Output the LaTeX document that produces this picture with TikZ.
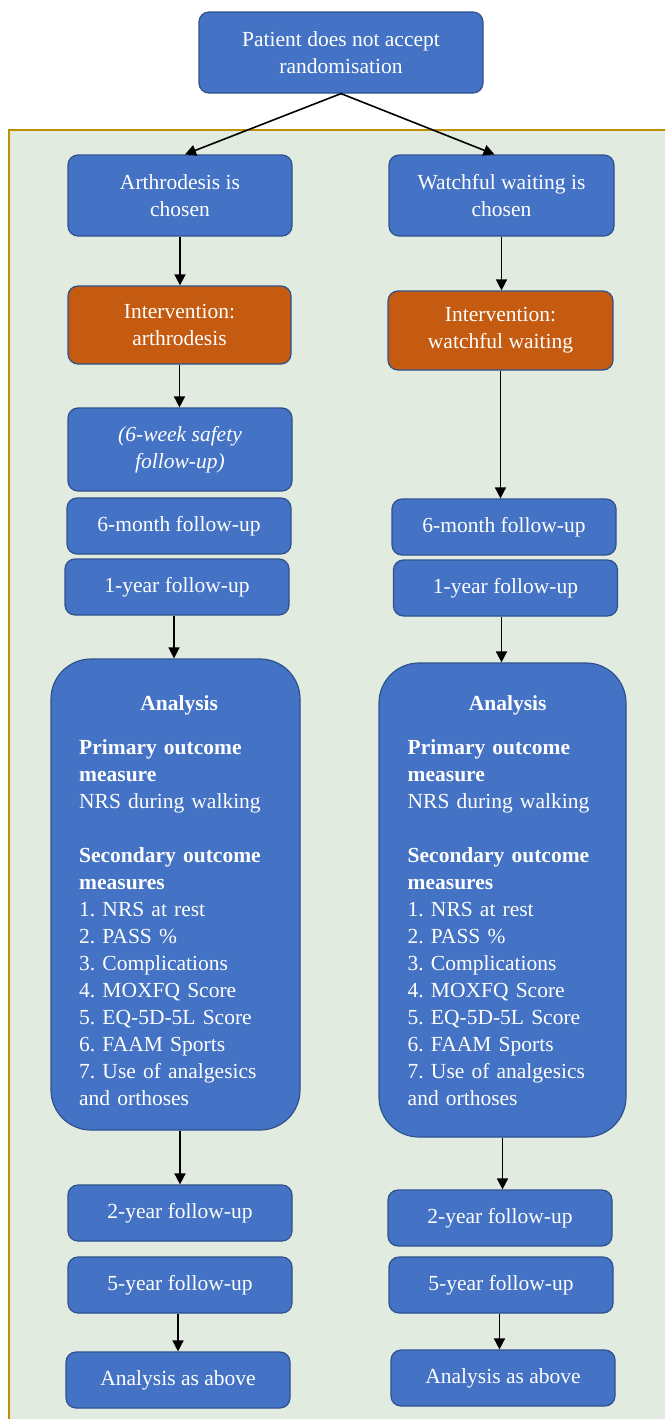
\documentclass[tikz,border=0pt]{standalone}
\usepackage{fontspec}
\setmainfont{Liberation Serif}
\usetikzlibrary{arrows.meta}
\definecolor{boxblue}{HTML}{4472C4}
\definecolor{boxedge}{HTML}{2F528F}
\definecolor{boxorange}{HTML}{C55A11}
\definecolor{framefill}{HTML}{E2EBE0}
\definecolor{frameedge}{HTML}{BF9000}
\newcommand{\diagfont}{\fontsize{21.5}{27}\selectfont}
\frenchspacing
\begin{document}
\begin{tikzpicture}[x=1pt,y=-1pt,
  box/.style={draw=boxedge, fill=boxblue, line width=1.2pt, rounded corners=10pt, text=white, align=center, inner sep=0pt, font=\diagfont},
  intbox/.style={box, fill=boxorange},
  fu/.style={box, minimum width=224pt, minimum height=56pt},
  anabox/.style={box, rounded corners=40pt},
  anatext/.style={text=white, font=\diagfont, align=left, inner sep=0pt, text width=200pt, anchor=north west},
  arr/.style={-{Triangle[length=11pt,width=11pt]}, line width=1.6pt, black}]
\useasboundingbox (0,0) rectangle (665,1419);
\clip (0,0) rectangle (665,1419);
% frame
\fill[framefill] (9,130) rectangle (690,1440);
\draw[frameedge, line width=1.6pt] (690,130) -- (9,130) -- (9,1440);

% top
\node[box, minimum width=284pt, minimum height=81pt] (top) at (341,52.5) {Patient does not accept\\randomisation};

% left column
\node[box, minimum width=224pt, minimum height=81pt] (chosenL) at (180,195.5) {Arthrodesis is\\chosen};
\node[intbox, minimum width=223pt, minimum height=78pt] (intL) at (179.5,325) {Intervention:\\arthrodesis};
\node[box, minimum width=224pt, minimum height=83pt] (sixwL) at (180,449.5) {\itshape (6-week safety\\\itshape follow-up)};
\node[fu] (sixmL) at (179,526) {6-month follow-up};
\node[fu] (oneyL) at (177,587) {1-year follow-up};
\node[anabox, minimum width=249pt, minimum height=471pt] (anaL) at (175.5,894.5) {};
\node[fu] (twoyL) at (180,1213) {2-year follow-up};
\node[fu] (fiveyL) at (180,1285) {5-year follow-up};
\node[fu] (aaaL) at (178,1380) {Analysis as above};

% right column
\node[box, minimum width=225pt, minimum height=81pt] (chosenR) at (501.5,195.5) {Watchful waiting is\\chosen};
\node[intbox, minimum width=225pt, minimum height=79pt] (intR) at (500.5,330.5) {Intervention:\\watchful waiting};
\node[fu] (sixmR) at (504,527) {6-month follow-up};
\node[fu] (oneyR) at (505.5,588) {1-year follow-up};
\node[anabox, minimum width=247pt, minimum height=474pt] (anaR) at (502.5,900) {};
\node[fu] (twoyR) at (500,1218) {2-year follow-up};
\node[fu] (fiveyR) at (501,1285) {5-year follow-up};
\node[fu] (aaaR) at (503,1378) {Analysis as above};

% analysis texts
\node[anatext] (anaLt) at (79,695.3) {\makebox[\hsize][c]{\bfseries Analysis}\\[17pt]
\textbf{Primary outcome}\\\textbf{measure}\\NRS during walking\\[27pt]
\textbf{Secondary outcome}\\\textbf{measures}\\1. NRS at rest\\2. PASS \%\\3. Complications\\4. MOXFQ Score\\5. EQ-5D-5L Score\\6. FAAM Sports\\7. Use of analgesics\\and orthoses};
\node[anatext] (anaRt) at (407.5,695.3) {\makebox[\hsize][c]{\bfseries Analysis}\\[17pt]
\textbf{Primary outcome}\\\textbf{measure}\\NRS during walking\\[27pt]
\textbf{Secondary outcome}\\\textbf{measures}\\1. NRS at rest\\2. PASS \%\\3. Complications\\4. MOXFQ Score\\5. EQ-5D-5L Score\\6. FAAM Sports\\7. Use of analgesics\\and orthoses};

% arrows
\draw[arr] (top.south) -- ([xshift=5pt]chosenL.north);
\draw[arr] (top.south) -- ([xshift=-7pt]chosenR.north);
\draw[arr] (chosenL.south) -- (chosenL.south |- intL.north);
\draw[arr] (intL.south) -- (intL.south |- sixwL.north);
\draw[arr] ([xshift=-3pt]oneyL.south) -- ([xshift=-3pt]oneyL.south |- anaL.north);
\draw[arr] (twoyL.north |- anaL.south) -- (twoyL.north);
\draw[arr] ([xshift=-2pt]fiveyL.south) -- ([xshift=-2pt]fiveyL.south |- aaaL.north);

\draw[arr] (chosenR.south) -- (chosenR.south |- intR.north);
\draw[arr] (intR.south) -- (intR.south |- sixmR.north);
\draw[arr] ([xshift=-4pt]oneyR.south) -- ([xshift=-4pt]oneyR.south |- anaR.north);
\draw[arr] (anaR.south) -- (anaR.south |- twoyR.north);
\draw[arr] ([xshift=-1.5pt]fiveyR.south) -- ([xshift=-1.5pt]fiveyR.south |- aaaR.north);
\end{tikzpicture}
\end{document}
